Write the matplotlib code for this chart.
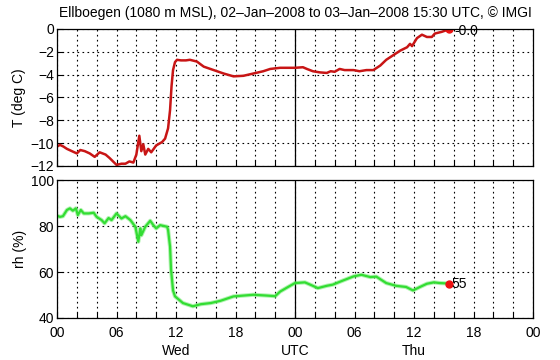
import matplotlib
matplotlib.use("Agg")
import matplotlib.pyplot as plt

plt.rcParams['font.family'] = ['Liberation Sans', 'DejaVu Sans']

t_hours = [0, 0.3, 0.65, 1.0, 1.5, 2.0, 2.35, 2.8, 3.3, 3.8, 4.3, 4.9, 5.3, 6.0,
           6.5, 6.9, 7.3, 7.7, 8.0, 8.3, 8.5, 8.7, 8.9, 9.2, 9.5, 10.0, 10.6,
           10.9, 11.2, 11.4, 11.55, 11.7, 11.9, 12.1, 12.5, 13.0, 13.4, 14.1,
           14.8, 15.8, 16.8, 17.8, 18.8, 19.8, 20.8, 21.5, 22.5, 24.0, 24.8,
           25.2, 25.8, 26.5, 27.2, 27.6, 28.0, 28.5, 29.0, 29.9, 30.5, 31.2,
           31.9, 32.6, 33.2, 33.9, 34.6, 35.3, 35.6, 35.8, 36.3, 36.8, 37.3,
           37.8, 38.1, 38.8, 39.3, 39.5]
temp = [-10.3, -10.15, -10.3, -10.5, -10.7, -10.9, -10.6, -10.7, -10.9, -11.2,
        -10.8, -11.0, -11.3, -11.9, -11.8, -11.8, -11.6, -11.7, -11.0, -9.35,
        -10.7, -10.1, -11.0, -10.5, -10.8, -10.2, -9.9, -9.6, -8.7, -7.1, -5.0,
        -3.6, -2.9, -2.7, -2.75, -2.75, -2.7, -2.85, -3.3, -3.6, -3.9, -4.15,
        -4.1, -3.9, -3.7, -3.5, -3.4, -3.4, -3.35, -3.5, -3.7, -3.8, -3.85,
        -3.7, -3.75, -3.5, -3.6, -3.6, -3.7, -3.6, -3.6, -3.2, -2.7, -2.3,
        -1.9, -1.6, -1.3, -1.5, -0.8, -0.5, -0.7, -0.7, -0.4, -0.25, -0.1, 0.0]

rh_hours = [0, 0.3, 0.6, 1.0, 1.3, 1.6, 1.9, 2.1, 2.4, 2.7, 3.2, 3.7, 4.0, 4.5,
            4.8, 5.2, 5.5, 6.0, 6.5, 6.9, 7.4, 7.9, 8.2, 8.4, 8.5, 8.9, 9.4,
            9.7, 10.0, 10.4, 11.1, 11.2, 11.4, 11.5, 11.7, 11.9, 12.7, 13.7,
            14.5, 15.5, 16.5, 17.8, 19.8, 21.0, 22.0, 22.5, 23.3, 24.0, 25.0,
            25.8, 26.3, 27.2, 27.8, 28.6, 29.9, 30.7, 31.6, 32.2, 33.2, 34.2,
            35.2, 35.9, 36.6, 37.3, 38.0, 38.6, 39.5]
rh = [84.5, 84.0, 84.3, 87.0, 87.7, 86.7, 87.7, 84.8, 87.0, 85.5, 85.5, 85.8,
      84.0, 82.6, 81.2, 83.5, 82.6, 85.5, 83.3, 84.3, 82.6, 79.7, 73.2, 79.0,
      76.0, 79.7, 82.3, 80.5, 79.0, 80.4, 79.7, 78.3, 71.0, 61.0, 52.0, 49.4,
      46.5, 45.1, 46.0, 46.5, 47.5, 49.4, 50.1, 49.8, 49.5, 51.5, 53.5, 55.2,
      55.5, 54.0, 53.0, 54.0, 54.5, 55.9, 58.1, 58.8, 57.8, 58.0, 55.2, 54.0,
      53.5, 52.0, 53.5, 54.9, 55.5, 55.2, 55.0]

x_ticks = [0, 6, 12, 18, 24, 30, 36, 42, 48]
x_labels = ['00', '06', '12\nWed', '18', '00\nUTC', '06', '12\nThu', '18', '00']
t_ticks = [0, -2, -4, -6, -8, -10, -12]
rh_ticks = [40, 60, 80, 100]

title = 'Ellboegen (1080 m MSL), 02\u2013Jan\u20132008 to 03\u2013Jan\u20132008 15:30 UTC, \u00a9 IMGI'

fig = plt.figure(figsize=(5.6, 3.6), dpi=100)
ax1 = fig.add_axes([0.1018, 0.5389, 0.85, 0.3806])
ax2 = fig.add_axes([0.1018, 0.1167, 0.85, 0.383])

grid_style = dict(color='black', linestyle=(0, (1.5, 3)), linewidth=0.8)

for ax in (ax1, ax2):
    ax.set_xlim(0, 48)
    ax.set_xticks(range(0, 49, 2), minor=True)
    ax.set_xticks(x_ticks)
    ax.grid(True, which='both', axis='x', **grid_style)
    ax.grid(True, which='major', axis='y', **grid_style)
    ax.axvline(24, color='black', linewidth=0.9)
    ax.tick_params(which='both', direction='in', length=4, width=0.8,
                   labelsize=10, colors='black', pad=2)
    ax.tick_params(axis='x', pad=6)
    for s in ax.spines.values():
        s.set_linewidth(0.9)

ax1.plot(t_hours, temp, color='#c81515', linewidth=1.8)
ax1.plot(t_hours[-1], temp[-1], 'o', color='#ee1111', markersize=5)
ax1.text(t_hours[-1] + 0.6, temp[-1] - 0.15, '-0.0', fontsize=10,
         va='center', ha='left')
ax1.set_ylim(-12, 0)
ax1.set_yticks(t_ticks)
ax1.set_yticklabels(['0', '\u22122', '\u22124', '\u22126', '\u22128', '\u221210', '\u221212'])
ax1.set_xticklabels([])
ax1.set_ylabel('T (deg C)', fontsize=10, labelpad=3)

ax2.plot(rh_hours, rh, color='#66e866', linewidth=3.0, alpha=0.5)
ax2.plot(rh_hours, rh, color='#33dd33', linewidth=1.6)
ax2.plot(rh_hours[-1], rh[-1], 'o', color='#ee1111', markersize=5)
ax2.text(rh_hours[-1] + 0.3, rh[-1], '55', fontsize=10, va='center', ha='left')
ax2.set_ylim(40, 100)
ax2.set_yticks(rh_ticks)
ax2.set_xticklabels(x_labels, linespacing=1.35)
ax2.set_ylabel('rh (%)', fontsize=10, labelpad=3)

fig.text(0.527, 1 - 13 / 360, title, fontsize=10, ha='center', va='center')

fig.savefig('out.png', dpi=100)
